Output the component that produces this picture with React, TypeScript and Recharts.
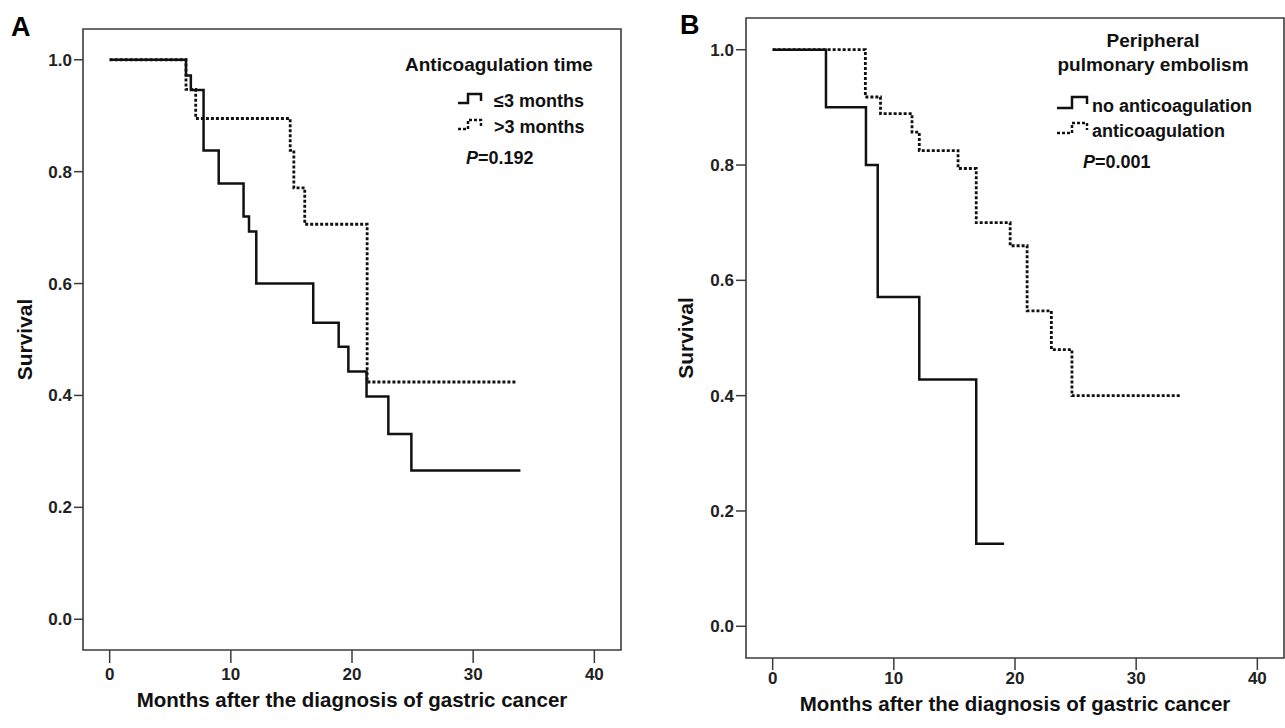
import React from 'react';
import { LineChart, Line, XAxis, YAxis, ReferenceArea, Legend } from 'recharts';

// ---------- data ----------
const xTicks = [0, 10, 20, 30, 40];
const yTicks = [0, 0.2, 0.4, 0.6, 0.8, 1.0];
const xAxisTitle = 'Months after the diagnosis of gastric cancer';
const yAxisTitle = 'Survival';

// Panel A: anticoagulation time
const aShortTime = [0, 6.3, 6.7, 7.75, 9.0, 11.05, 11.5, 12.1, 16.8, 18.9, 19.7, 21.2, 23.0, 24.9, 33.9];
const aShortSurv = [1.0, 0.972, 0.946, 0.838, 0.779, 0.72, 0.693, 0.6, 0.53, 0.487, 0.443, 0.398, 0.331, 0.266, 0.266];
const aLongTime = [0, 6.3, 7.1, 14.9, 15.2, 16.1, 21.25, 33.6];
const aLongSurv = [1.0, 0.947, 0.895, 0.838, 0.771, 0.706, 0.424, 0.424];
const aSeriesNames = ['\u22643 months', '>3 months'];
const aLegendTitle = ['Anticoagulation time'];
const aPValue = '0.192';

// Panel B: peripheral pulmonary embolism
const bNoTime = [0, 4.4, 7.7, 8.67, 12.1, 16.8, 19.1];
const bNoSurv = [1.0, 0.9, 0.8, 0.571, 0.428, 0.143, 0.143];
const bAntiTime = [0, 7.65, 8.9, 11.5, 12.1, 15.3, 16.8, 19.6, 21.0, 23.0, 24.7, 33.7];
const bAntiSurv = [1.0, 0.918, 0.889, 0.857, 0.825, 0.794, 0.7, 0.66, 0.547, 0.48, 0.4, 0.4];
const bSeriesNames = ['no anticoagulation', 'anticoagulation'];
const bLegendTitle = ['Peripheral', 'pulmonary embolism'];
const bPValue = '0.001';

const zip = (t: number[], s: number[]) => t.map((v, i) => ({ t: v, s: s[i] }));

// ---------- styling ----------
const FONT = '"Liberation Sans", Arial, Helvetica, sans-serif';
const INK = '#111';
const FRAME = '#3c3c3c';
const X_DOMAIN: [number, number] = [-2.2, 42.2];
const Y_DOMAIN: [number, number] = [-0.055, 1.055];

type LegendLayout = {
  panelLabel: string;
  panelLabelX: number;
  panelLabelY: number;
  titleX: number;
  titleY: number[];
  symX: [number, number, number];
  rows: { low: number; top: number; end: number; textY: number }[];
  textX: number;
  pX: number;
  pY: number;
  titleSize: number;
};

type PanelProps = {
  left: number;
  width: number;
  margin: { top: number; right: number; bottom: number; left: number };
  xAxisHeight: number;
  xTickSize: number;
  xTickMargin: number;
  xLabelOffset: number;
  yTickSize: number;
  yLabelOffset: number;
  series: { name: string; data: { t: number; s: number }[]; dashed: boolean }[];
  legendTitle: string[];
  pValue: string;
  layout: LegendLayout;
};

const StepSymbol = ({ x, row, dashed }: { x: [number, number, number]; row: LegendLayout['rows'][0]; dashed: boolean }) => (
  <path
    d={`M ${x[0]} ${row.low} H ${x[1]} V ${row.top} H ${x[2]} V ${row.end}`}
    fill="none"
    stroke={INK}
    strokeWidth={2.5}
    strokeDasharray={dashed ? '3 2' : undefined}
  />
);

const Panel = (p: PanelProps) => {
  const L = p.layout;
  const legendContent = () => (
    <svg width={p.width} height={728} style={{ position: 'absolute', left: 0, top: 0, overflow: 'visible' }}>
      <text x={L.panelLabelX} y={L.panelLabelY} fontFamily={FONT} fontWeight="bold" fontSize={27} fill="#000">
        {L.panelLabel}
      </text>
      {p.legendTitle.map((line, i) => (
        <text key={line} x={L.titleX} y={L.titleY[i]} textAnchor="middle" fontFamily={FONT} fontWeight="bold" fontSize={L.titleSize} fill={INK}>
          {line}
        </text>
      ))}
      {p.series.map((s, i) => (
        <g key={s.name}>
          <StepSymbol x={L.symX} row={L.rows[i]} dashed={s.dashed} />
          <text x={L.textX} y={L.rows[i].textY} fontFamily={FONT} fontWeight="bold" fontSize={18} fill={INK}>
            {s.name}
          </text>
        </g>
      ))}
      <text x={L.pX} y={L.pY} fontFamily={FONT} fontWeight="bold" fontSize={18} fill={INK}>
        <tspan fontStyle="italic">P</tspan>
        <tspan>={p.pValue}</tspan>
      </text>
    </svg>
  );

  return (
    <div style={{ position: 'absolute', left: p.left, top: 0 }}>
      <LineChart width={p.width} height={728} margin={p.margin}>
        <XAxis
          type="number"
          dataKey="t"
          domain={X_DOMAIN}
          ticks={xTicks}
          allowDataOverflow
          axisLine={false}
          tickLine={{ stroke: FRAME, strokeWidth: 1.5 }}
          tickSize={p.xTickSize}
          tickMargin={p.xTickMargin}
          height={p.xAxisHeight}
          tick={{ fontSize: 17, fontWeight: 'bold', fill: '#222', fontFamily: FONT }}
          label={{
            value: xAxisTitle,
            position: 'insideBottom',
            offset: p.xLabelOffset,
            style: { fontSize: 20.5, fontWeight: 'bold', fill: '#111', fontFamily: FONT },
          }}
        />
        <YAxis
          type="number"
          dataKey="s"
          domain={Y_DOMAIN}
          ticks={yTicks}
          allowDataOverflow
          axisLine={false}
          width={70}
          tickLine={{ stroke: FRAME, strokeWidth: 1.5 }}
          tickSize={p.yTickSize}
          tickMargin={2}
          tickFormatter={(v: number) => v.toFixed(1)}
          tick={{ fontSize: 17, fontWeight: 'bold', fill: '#222', fontFamily: FONT }}
          label={{
            value: yAxisTitle,
            angle: -90,
            position: 'insideLeft',
            offset: p.yLabelOffset,
            style: { textAnchor: 'middle', fontSize: 21, fontWeight: 'bold', fill: '#111', fontFamily: FONT },
          }}
        />
        <ReferenceArea
          x1={X_DOMAIN[0]}
          x2={X_DOMAIN[1]}
          y1={Y_DOMAIN[0]}
          y2={Y_DOMAIN[1]}
          fill="none"
          fillOpacity={0}
          stroke={FRAME}
          strokeWidth={1.6}
        />
        {p.series.map((s) => (
          <Line
            key={s.name}
            name={s.name}
            data={s.data}
            dataKey="s"
            type="stepAfter"
            stroke={INK}
            strokeWidth={s.dashed ? 2.8 : 2.5}
            strokeDasharray={s.dashed ? '3 2' : undefined}
            dot={false}
            activeDot={false}
            isAnimationActive={false}
          />
        ))}
        <Legend
          layout="vertical"
          align="center"
          verticalAlign="middle"
          content={legendContent}
          wrapperStyle={{ position: 'absolute', left: 0, top: 0, width: p.width, height: 728, margin: 0, pointerEvents: 'none' }}
        />
      </LineChart>
    </div>
  );
};

export default function App() {
  return (
    <div style={{ position: 'absolute', left: 0, top: 0, width: 1285, height: 728, background: '#fff', fontFamily: FONT }}>
      <Panel
        left={0}
        width={640}
        margin={{ top: 29, right: 19, bottom: 8, left: 13 }}
        xAxisHeight={70}
        xTickSize={13}
        xTickMargin={5}
        xLabelOffset={13}
        yTickSize={9}
        yLabelOffset={12}
        series={[
          { name: aSeriesNames[0], data: zip(aShortTime, aShortSurv), dashed: false },
          { name: aSeriesNames[1], data: zip(aLongTime, aLongSurv), dashed: true },
        ]}
        legendTitle={aLegendTitle}
        pValue={aPValue}
        layout={{
          panelLabel: 'A',
          panelLabelX: 11,
          panelLabelY: 36,
          titleX: 499,
          titleY: [71],
          titleSize: 19,
          symX: [458, 468, 481],
          rows: [
            { low: 103, top: 94, end: 101, textY: 107 },
            { low: 129, top: 120, end: 127, textY: 133 },
          ],
          textX: 494,
          pX: 466,
          pY: 164,
        }}
      />
      <Panel
        left={640}
        width={645}
        margin={{ top: 18, right: 1, bottom: 8, left: 36 }}
        xAxisHeight={62}
        xTickSize={12}
        xTickMargin={2}
        xLabelOffset={9}
        yTickSize={10}
        yLabelOffset={10}
        series={[
          { name: bSeriesNames[0], data: zip(bNoTime, bNoSurv), dashed: false },
          { name: bSeriesNames[1], data: zip(bAntiTime, bAntiSurv), dashed: true },
        ]}
        legendTitle={bLegendTitle}
        pValue={bPValue}
        layout={{
          panelLabel: 'B',
          panelLabelX: 40,
          panelLabelY: 34,
          titleX: 513,
          titleY: [47, 71],
          titleSize: 19,
          symX: [417, 432, 447],
          rows: [
            { low: 108, top: 97, end: 104, textY: 112 },
            { low: 133, top: 123, end: 130, textY: 137 },
          ],
          textX: 452,
          pX: 443,
          pY: 168,
        }}
      />
    </div>
  );
}
